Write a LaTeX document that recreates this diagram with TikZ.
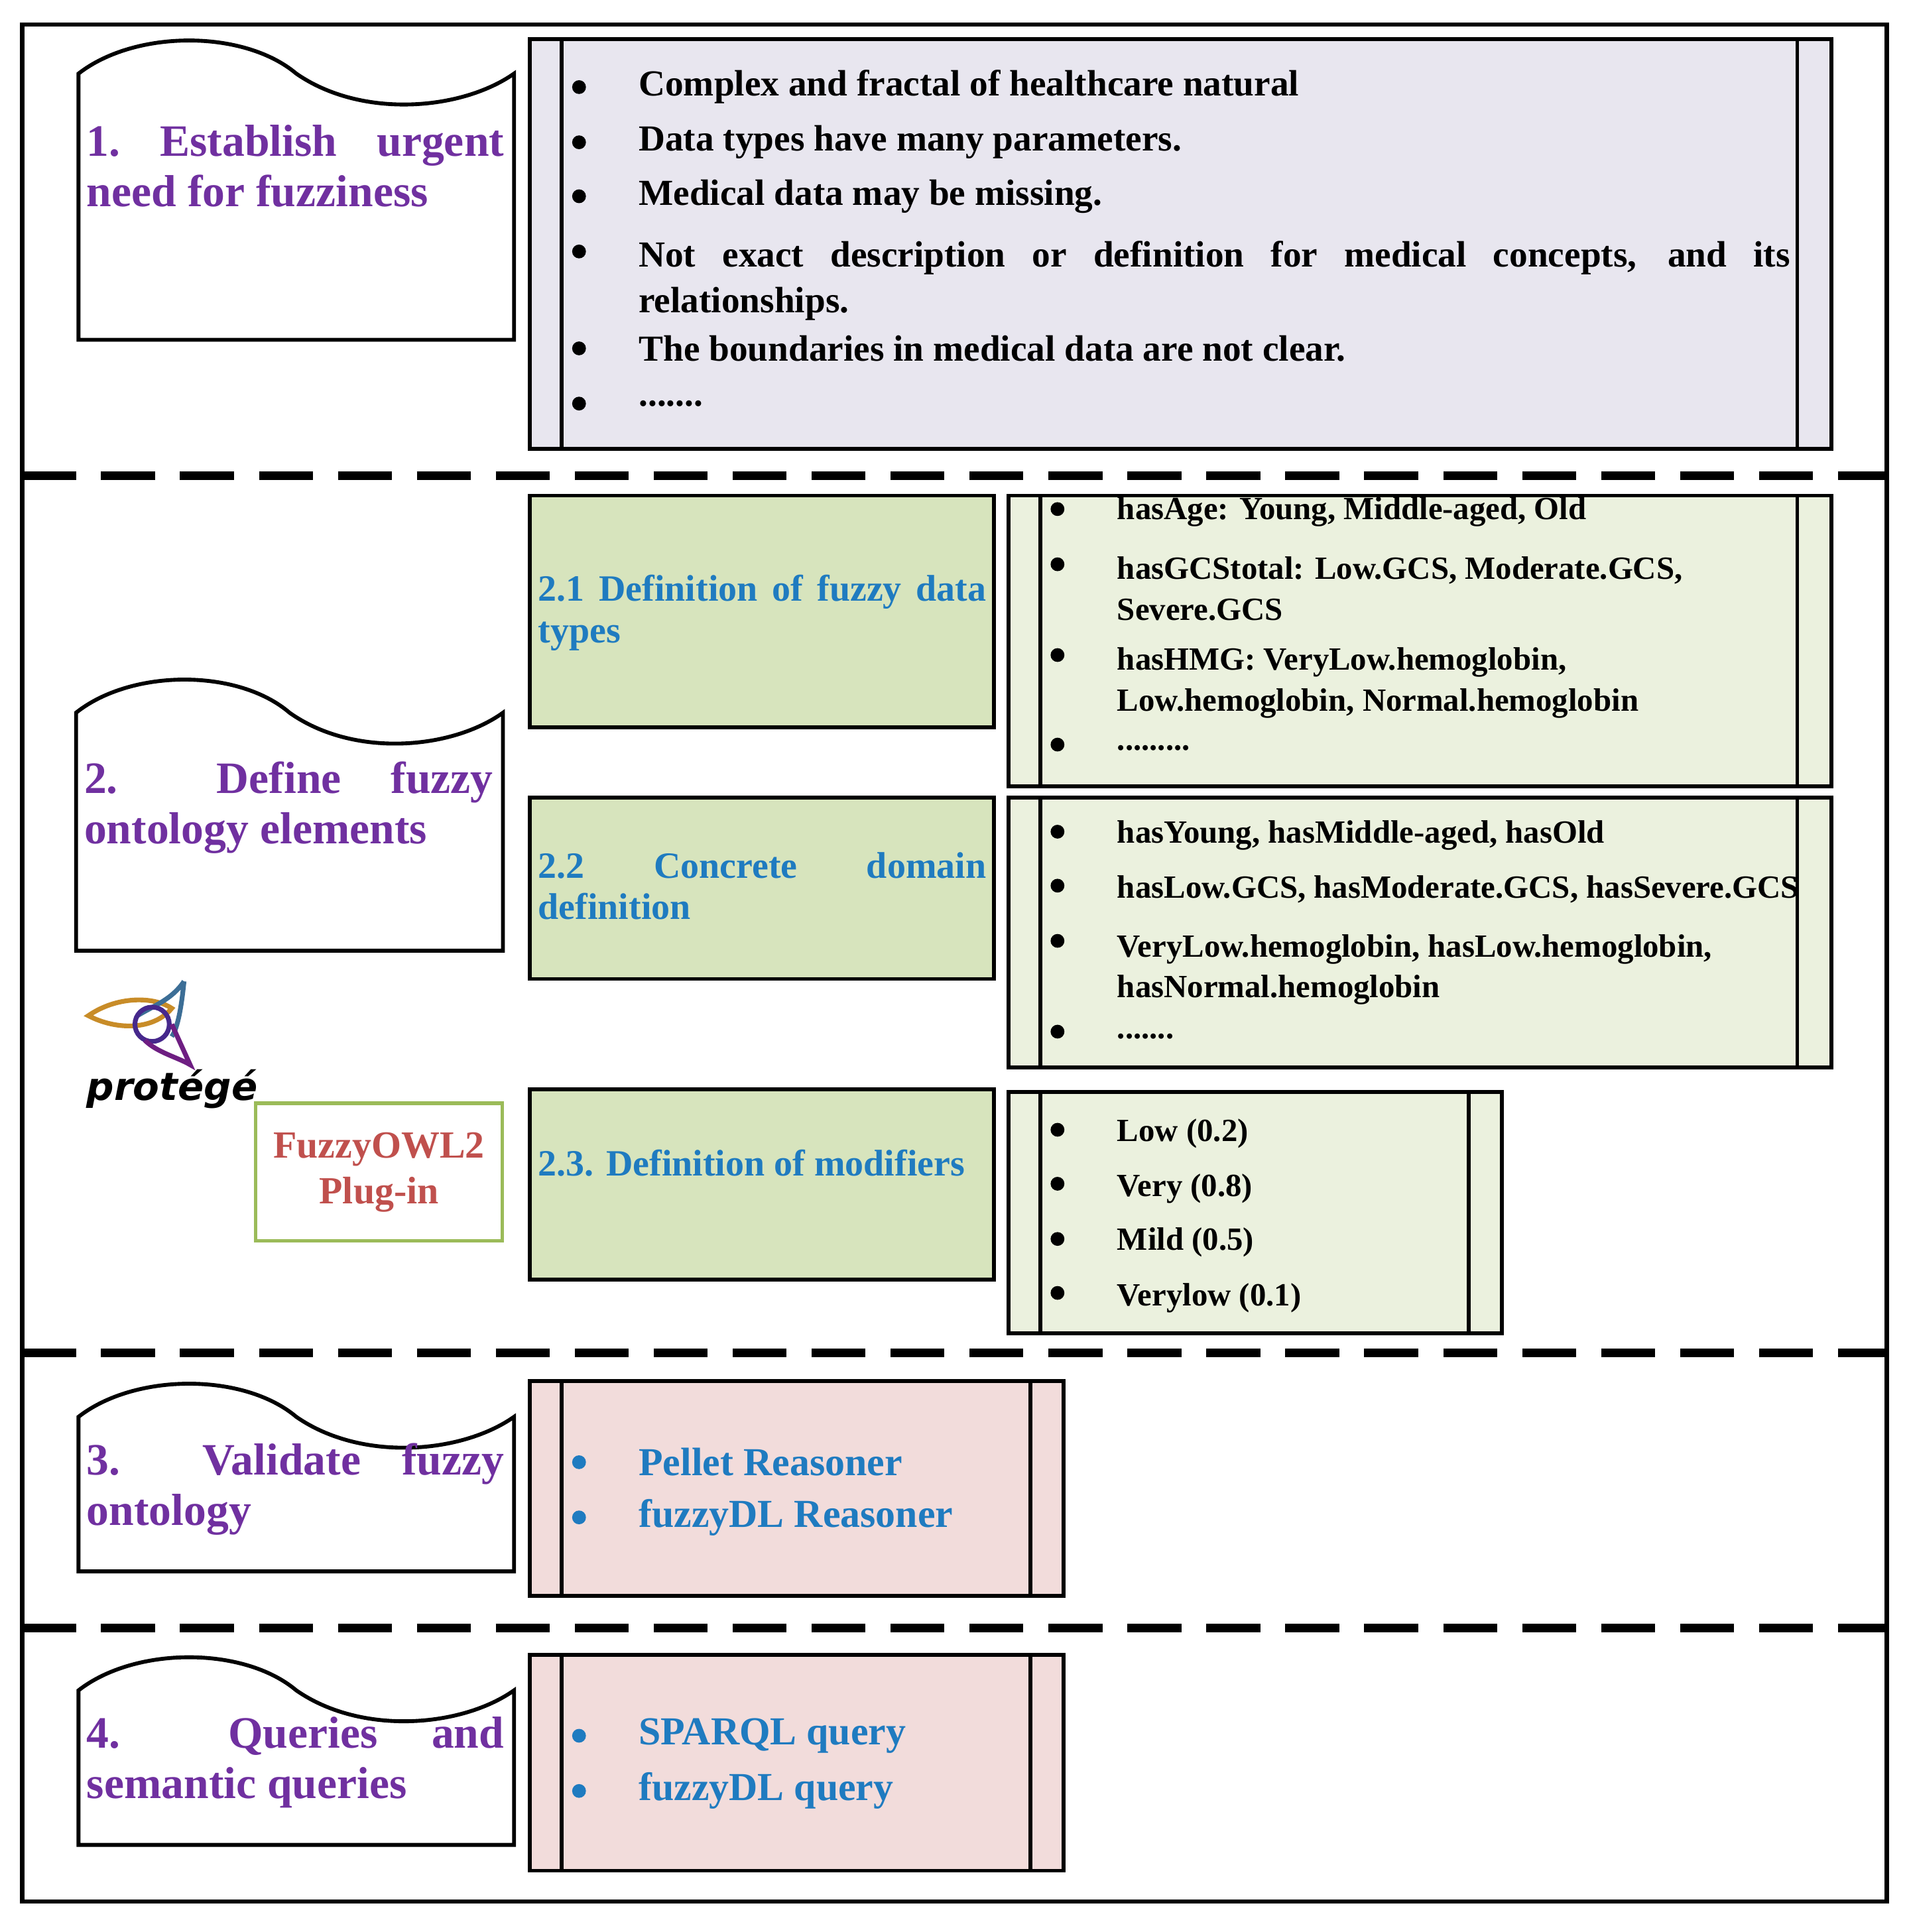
\documentclass[tikz,border=0pt]{standalone}
\usepackage{fontspec}
\setmainfont{Liberation Serif}
\newfontfamily\logofont{DejaVu Sans}
\begin{document}
\hyphenpenalty=10000 \exhyphenpenalty=10000
\begin{tikzpicture}[x=0.01cm,y=-0.01cm,
  doc/.style={draw=black,line width=0.9pt,fill=white},
  sepline/.style={line width=2pt,dash pattern=on 12.5pt off 5.8pt},
  lav/.style={draw=black,line width=0.9pt,fill={rgb,255:red,232;green,230;blue,239}},
  grn/.style={draw=black,line width=0.9pt,fill={rgb,255:red,215;green,228;blue,189}},
  lgr/.style={draw=black,line width=0.9pt,fill={rgb,255:red,235;green,241;blue,222}},
  pnk/.style={draw=black,line width=0.9pt,fill={rgb,255:red,242;green,220;blue,219}},
  ttl/.style={anchor=north west,inner sep=0pt,text width=#1,align=justify,font=\fontsize{10.4}{11.7}\selectfont\bfseries,text={rgb,255:red,112;green,48;blue,160}},
  sub/.style={anchor=north west,inner sep=0pt,text width=#1,align=justify,font=\fontsize{8.6}{9.6}\selectfont\bfseries,text={rgb,255:red,31;green,123;blue,192}},
  itm/.style={anchor=west,inner sep=0pt,font=\fontsize{8.5}{10.5}\selectfont\bfseries},
  sitm/.style={anchor=west,inner sep=0pt,font=\fontsize{7.5}{9.5}\selectfont\bfseries},
  bitm/.style={anchor=west,inner sep=0pt,font=\fontsize{9.2}{11}\selectfont\bfseries,text={rgb,255:red,31;green,123;blue,192}},
  bul/.style={circle,fill=black,inner sep=0pt,minimum size=3.2pt},
  bbul/.style={circle,fill={rgb,255:red,31;green,123;blue,192},inner sep=0pt,minimum size=3.2pt}]
\useasboundingbox (0,0) rectangle (1556,1575);
\newcommand\wavydoc[4]{%
  \draw[doc] (#1,{#2+28}) .. controls ({#1+0.13*(#3-#1)},{#2-8}) and ({#1+0.38*(#3-#1)},{#2-8}) .. ({#1+0.5*(#3-#1)},{#2+28})
   .. controls ({#1+0.65*(#3-#1)},{#2+65}) and ({#1+0.88*(#3-#1)},{#2+58}) .. (#3,{#2+28}) -- (#3,#4) -- (#1,#4) -- cycle;}
% outer frame
\draw[line width=1pt] (18,20) rectangle (1538,1550);
\coordinate (d1a) at (18,388); \coordinate (d1b) at (1538,388);
\coordinate (d2a) at (18,1103); \coordinate (d2b) at (1538,1103);
\coordinate (d3a) at (18,1327); \coordinate (d3b) at (1538,1327);
\draw[sepline] (d1a)--(d1b); \draw[sepline] (d2a)--(d2b); \draw[sepline] (d3a)--(d3b);
% section 1
\wavydoc{64}{32}{419}{277}
\node[ttl=3.4cm] (t1) at (70,101) {1.\ Establish urgent\linebreak need for fuzziness};
\draw[lav] (432,32) rectangle (1493,366);
\draw[line width=0.9pt] (458,32)--(458,366) (1465,32)--(1465,366);
\foreach \y/\n in {71/a,116/b,160/c,205/d,284/e,329/f} \node[bul] (b1\n) at (472,\y) {};
\node[itm] (i1a) at (520,71) {Complex and fractal of healthcare natural};
\node[itm] (i1b) at (520,116) {Data types have many parameters.};
\node[itm] (i1c) at (520,160) {Medical data may be missing.};
\node[itm,anchor=north west,text width=9.38cm,align=justify,font=\fontsize{8.5}{10.5}\selectfont\bfseries] (i1d) at (520,196) {Not exact description or definition for medical concepts, and its\linebreak relationships.};
\node[itm] (i1e) at (520,284) {The boundaries in medical data are not clear.};
\node[itm] (i1f) at (520,329) {.......};
% section 2
\wavydoc{62}{553}{410}{775}
\node[ttl=3.33cm] (t2) at (68,620) {2.\ \ Define fuzzy\linebreak ontology elements};
\draw[grn] (432,404) rectangle (810,593);
\node[sub=3.65cm] (s21) at (438,468) {2.1 Definition of fuzzy data\linebreak types};
\draw[grn] (432,650) rectangle (810,798);
\node[sub=3.65cm] (s22) at (438,694) {2.2 Concrete domain\linebreak definition};
\draw[grn] (432,888) rectangle (810,1043);
\node[sub=3.65cm,anchor=west] (s23) at (438,948) {2.3. Definition of modifiers};
% list 2.1
\draw[lgr] (822,404) rectangle (1493,641);
\draw[line width=0.9pt] (848,404)--(848,641) (1465,404)--(1465,641);
\foreach \y/\n in {415/a,460/b,534/c,607/d} \node[bul] (b21\n) at (862,\y) {};
\node[sitm] (l21a) at (910,417) {hasAge: Young, Middle-aged, Old};
\node[sitm,anchor=north west,align=left] (l21b) at (910,453) {hasGCStotal: Low.GCS, Moderate.GCS,\\Severe.GCS};
\node[sitm,anchor=north west,align=left] (l21c) at (910,527) {hasHMG: VeryLow.hemoglobin,\\Low.hemoglobin, Normal.hemoglobin};
\node[sitm] (l21d) at (910,610) {.........};
% list 2.2
\draw[lgr] (822,650) rectangle (1493,870);
\draw[line width=0.9pt] (848,650)--(848,870) (1465,650)--(1465,870);
\foreach \y/\n in {678/a,722/b,767/c,841/d} \node[bul] (b22\n) at (862,\y) {};
\node[sitm] (l22a) at (910,681) {hasYoung, hasMiddle-aged, hasOld};
\node[sitm] (l22b) at (910,725) {hasLow.GCS, hasModerate.GCS, hasSevere.GCS};
\node[sitm,anchor=north west,align=left] (l22c) at (910,761) {VeryLow.hemoglobin, hasLow.hemoglobin,\\hasNormal.hemoglobin};
\node[sitm] (l22d) at (910,845) {.......};
% list 2.3
\draw[lgr] (822,890) rectangle (1224,1087);
\draw[line width=0.9pt] (848,890)--(848,1087) (1197,890)--(1197,1087);
\foreach \y/\n in {921/a,965/b,1010/c,1054/d} \node[bul] (b23\n) at (862,\y) {};
\node[sitm] (l23a) at (910,924) {Low (0.2)};
\node[sitm] (l23b) at (910,969) {Very (0.8)};
\node[sitm] (l23c) at (910,1013) {Mild (0.5)};
\node[sitm] (l23d) at (910,1058) {Verylow (0.1)};
% protege logo
\draw[line width=1.1pt,color={rgb,255:red,200;green,140;blue,40}] (72,828) .. controls (95,812) and (125,812) .. (140,822) .. controls (125,840) and (95,840) .. cycle;
\draw[line width=1.1pt,color={rgb,255:red,60;green,110;blue,150}] (150,800) .. controls (140,815) and (125,820) .. (112,828) (150,800) .. controls (148,820) and (145,838) .. (140,845);
\draw[line width=1.1pt,color={rgb,255:red,70;green,40;blue,140}] (124,835) circle (14);
\draw[line width=1.1pt,color={rgb,255:red,110;green,30;blue,130}] (118,848) .. controls (128,858) and (145,862) .. (155,868) -- (140,835);
\node[anchor=west,inner sep=0pt,font=\logofont\fontsize{8.9}{10}\selectfont\bfseries\itshape] (prot) at (70,888) {protégé};
\node[draw={rgb,255:red,155;green,187;blue,89},line width=0.8pt,minimum width=2.01cm,minimum height=1.12cm,anchor=north west,inner sep=0pt] (fow) at (207,898) {};
\node[align=center,font=\fontsize{8.9}{10.6}\selectfont\bfseries,text={rgb,255:red,192;green,80;blue,77}] (fowt) at (fow.center) {FuzzyOWL2\\Plug-in};
% section 3
\wavydoc{64}{1127}{419}{1281}
\node[ttl=3.4cm] (t3) at (70,1176) {3.\ \ Validate fuzzy\linebreak ontology};
\draw[pnk] (432,1126) rectangle (867,1301);
\draw[line width=0.9pt] (458,1126)--(458,1301) (840,1126)--(840,1301);
\node[bbul] (b3a) at (472,1192) {}; \node[bbul] (b3b) at (472,1237) {};
\node[bitm] (l3a) at (520,1192) {Pellet Reasoner};
\node[bitm] (l3b) at (520,1237) {fuzzyDL Reasoner};
% section 4
\wavydoc{64}{1350}{419}{1504}
\node[ttl=3.4cm] (t4) at (70,1399) {4.\ \ Queries and\linebreak semantic queries};
\draw[pnk] (432,1349) rectangle (867,1525);
\draw[line width=0.9pt] (458,1349)--(458,1525) (840,1349)--(840,1525);
\node[bbul] (b4a) at (472,1415) {}; \node[bbul] (b4b) at (472,1460) {};
\node[bitm] (l4a) at (520,1415) {SPARQL query};
\node[bitm] (l4b) at (520,1460) {fuzzyDL query};
\end{tikzpicture}
\end{document}
